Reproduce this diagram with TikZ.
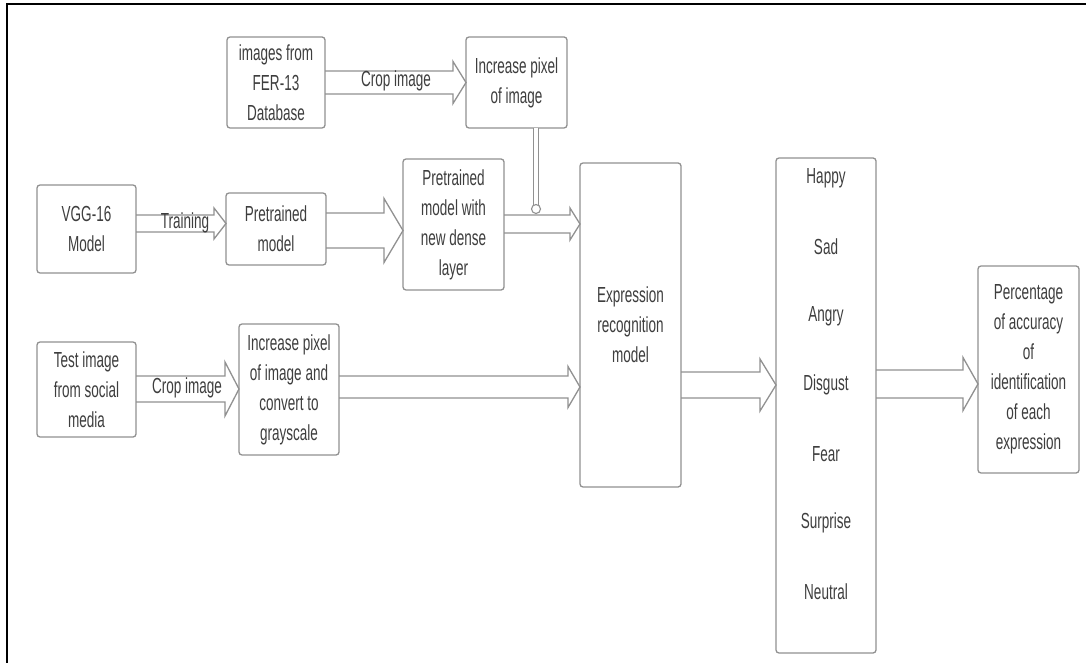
\documentclass[tikz,border=0pt]{standalone}
\usepackage{fontspec}
\setmainfont{Liberation Sans}[FakeStretch=0.62]
\usetikzlibrary{calc}
\definecolor{linegray}{RGB}{145,145,145}
\definecolor{txt}{RGB}{62,62,62}
\newcommand\dfont{\fontsize{21.8}{30}\selectfont}
\tikzset{
  box/.style={draw=linegray, line width=1.3pt, rounded corners=3pt, fill=white,
    inner sep=0pt, outer sep=0pt, align=center, text=txt, font=\dfont},
  lbl/.style={text=txt, font=\dfont, inner sep=0pt, outer sep=0pt},
  arrowline/.style={draw=linegray, line width=1.3pt, line join=miter},
  vconn/.style={draw=linegray, line width=1.1pt, double=white, double distance=4pt},
}
% from, to, ycenter, shaft half, head half, head length
\newcommand\barrow[6]{%
  \draw[arrowline] ($(#1.east |- 0,#3)+(0,-#4)$) -- ($(#2.west |- 0,#3)+(-#6,-#4)$)
    -- ($(#2.west |- 0,#3)+(-#6,-#5)$) -- (#2.west |- 0,#3)
    -- ($(#2.west |- 0,#3)+(-#6,#5)$) -- ($(#2.west |- 0,#3)+(-#6,#4)$)
    -- ($(#1.east |- 0,#3)+(0,#4)$);}
\begin{document}
\begin{tikzpicture}[x=1pt,y=-1pt]
\useasboundingbox (0,0) rectangle (1086,663);
\fill[white] (0,0) rectangle (1086,663);
\draw[black, line width=2.4pt] (1086,4) -- (7,4) -- (7,663);

% boxes
\node[box, minimum width=98pt, minimum height=91pt] (fer) at (276,82.5) {images from\\FER-13\\Database};
\node[box, minimum width=101pt, minimum height=91pt] (inc1) at (516.5,82.5) {Increase pixel\\of image};
\node[box, minimum width=99pt, minimum height=88pt] (vgg) at (86.5,229) {VGG-16\\Model};
\node[box, minimum width=100pt, minimum height=72pt] (pre) at (276,229) {Pretrained\\model};
\node[box, minimum width=101pt, minimum height=131pt] (dense) at (453.5,224.5) {Pretrained\\model with\\new dense\\layer};
\node[box, minimum width=99pt, minimum height=95pt] (test) at (86.5,389.5) {Test image\\from social\\media};
\node[box, minimum width=100pt, minimum height=131pt] (gray) at (289,389.5) {Increase pixel\\of image and\\convert to\\grayscale};
\node[box, minimum width=101pt, minimum height=324pt] (expr) at (630.5,325) {Expression\\recognition\\model};
\node[box, minimum width=100pt, minimum height=495pt] (emo) at (826,405.5) {};
\node[box, minimum width=101pt, minimum height=207pt] (pct) at (1028.5,369.5) {Percentage\\of accuracy\\of\\identification\\of each\\expression};

% emotion labels
\node[lbl] (happy) at (826,178) {Happy};
\node[lbl] (sad) at (826,247) {Sad};
\node[lbl] (angry) at (826,316) {Angry};
\node[lbl] (disgust) at (826,385) {Disgust};
\node[lbl] (fear) at (826,454) {Fear};
\node[lbl] (surprise) at (826,523) {Surprise};
\node[lbl] (neutral) at (826,592) {Neutral};

% block arrows
\barrow{fer}{inc1}{82.5}{11.5}{21}{13}
\barrow{vgg}{pre}{223.5}{8.5}{15.5}{12}
\barrow{pre}{dense}{230.5}{17.5}{32}{19}
\barrow{dense}{expr}{224}{9}{16}{10}
\barrow{test}{gray}{389}{13}{27}{14}
\barrow{gray}{expr}{387}{11}{20.5}{12}
\barrow{expr}{emo}{385}{13}{26}{16}
\barrow{emo}{pct}{384}{14}{26.5}{15}

% arrow labels
\node[lbl] (crop1) at (396,81) {Crop image};
\node[lbl] (train) at (185,223) {Training};
\node[lbl] (crop2) at (187,388) {Crop image};

% vertical connector
\coordinate (hop) at (536,204.5);
\draw[vconn] (inc1.south -| hop) -- (hop);
\draw[draw=linegray, line width=1.1pt, fill=white] (536,209) circle (4.5pt);
\end{tikzpicture}
\end{document}
